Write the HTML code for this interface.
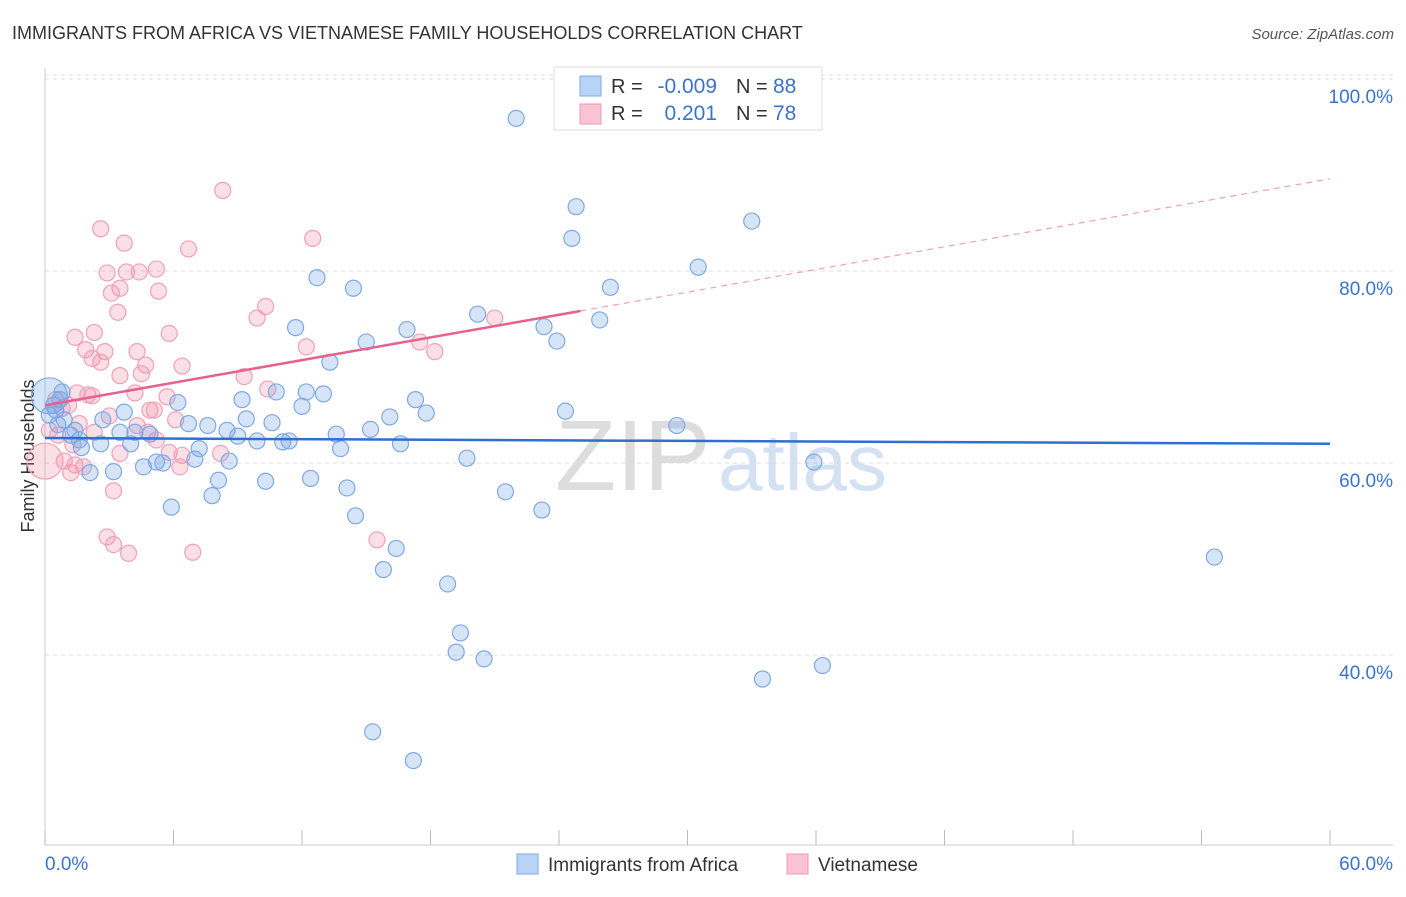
<!DOCTYPE html>
<html><head><meta charset="utf-8"><style>
body{margin:0;background:#fff;font-family:"Liberation Sans",sans-serif;}
svg text{font-family:"Liberation Sans",sans-serif;}
</style></head><body>
<svg id="chart" width="1406" height="892">
<text x="12" y="39" font-size="18" fill="#333">IMMIGRANTS FROM AFRICA VS VIETNAMESE FAMILY HOUSEHOLDS CORRELATION CHART</text>
<text x="1394" y="39" font-size="15" fill="#555" font-style="italic" text-anchor="end">Source: ZipAtlas.com</text>
<text transform="translate(34,456) rotate(-90)" font-size="18" fill="#333" text-anchor="middle">Family Households</text>
<g>
<text x="555" y="490" font-size="100" fill="#ddd" font-family="Liberation Serif">ZIP</text>
<text x="718" y="490" font-size="80" fill="#d3e1f3">atlas</text>
</g>
<g id="grid"></g><g id="axes"></g><g id="pts"></g><g id="trends"></g>
<g>
<rect x="554" y="67" width="268" height="63" fill="#fff" stroke="#ddd"/>
<rect x="580" y="76" width="21" height="20" fill="#b8d3f5" stroke="#7ea9e6"/>
<rect x="580" y="104" width="21" height="20" fill="#f9c3d3" stroke="#ef9ab5"/>
<text x="611" y="93" font-size="20" fill="#333">R =</text>
<text x="717" y="93" font-size="21" fill="#3a74d0" text-anchor="end">-0.009</text>
<text x="736" y="93" font-size="20" fill="#333">N =</text>
<text x="773" y="93" font-size="21" fill="#3a74d0">88</text>
<text x="611" y="120" font-size="20" fill="#333">R =</text>
<text x="717" y="120" font-size="21" fill="#3a74d0" text-anchor="end">0.201</text>
<text x="736" y="120" font-size="20" fill="#333">N =</text>
<text x="773" y="120" font-size="21" fill="#3a74d0">78</text>
</g>
<g>
<rect x="517" y="854" width="21" height="20" fill="#b8d3f5" stroke="#7ea9e6"/>
<text x="548" y="871" font-size="19" fill="#333">Immigrants from Africa</text>
<rect x="787" y="854" width="21" height="20" fill="#f9c3d3" stroke="#ef9ab5"/>
<text x="818" y="871" font-size="19" fill="#333">Vietnamese</text>
</g>
</svg>
<script>
const NS="http://www.w3.org/2000/svg";
const yTicks=[40,60,80,100];
const yTickLabels=["40.0%","60.0%","80.0%","100.0%"];
const xTicks=[0,6,12,18,24,30,36,42,48,54,60];
const xTickLabels=["0.0%","60.0%"];
const africaX=[22.0,24.8,33.0,24.6,30.5,12.7,14.4,26.4,20.2,25.9,11.7,23.3,16.9,15.0,23.9,13.3,10.8,12.2,13.0,9.2,6.2,17.3,12.0,3.7,24.3,17.8,16.1,9.4,10.6,2.7,6.7,7.6,8.5,9.0,13.6,15.2,29.5,3.5,4.2,4.9,9.9,11.4,11.1,4.0,2.6,1.7,7.2,13.8,16.6,7.0,5.2,8.6,4.6,5.5,19.7,35.9,3.2,2.1,8.1,10.3,12.4,14.1,21.5,7.8,5.9,23.2,14.5,16.4,15.8,54.6,18.8,19.4,19.2,20.5,36.3,33.5,15.3,17.2,0.7,0.5,0.9,1.2,0.2,1.6,0.6,0.8,1.4,0.4];
const africaY=[95.9,86.7,85.2,83.4,80.4,79.3,78.2,78.3,75.5,74.9,74.1,74.2,73.9,72.6,72.7,70.5,67.4,67.4,67.2,66.6,66.3,66.6,65.9,65.3,65.4,65.2,64.8,64.6,64.2,64.5,64.1,63.9,63.4,62.8,63.0,63.5,63.9,63.2,63.2,63.0,62.3,62.3,62.2,62.0,62.0,61.6,61.5,61.5,62.0,60.4,60.1,60.2,59.6,60.0,60.5,60.1,59.1,59.0,58.2,58.1,58.4,57.4,57.0,56.6,55.4,55.1,54.5,51.1,48.9,50.2,47.4,42.3,40.3,39.6,38.9,37.5,32.0,29.0,66.6,65.5,64.5,62.9,65.0,62.4,64.0,67.4,63.4,66.0];
const vietX=[8.3,2.6,12.5,3.7,6.7,2.9,3.8,4.4,5.2,3.5,3.1,5.3,3.4,10.3,9.9,21.0,2.3,1.4,5.8,1.9,2.8,12.2,17.5,18.2,4.3,2.2,2.6,4.7,6.4,4.5,3.5,9.3,10.4,1.5,2.0,2.2,4.2,5.7,4.9,5.1,0.5,0.8,1.1,3.0,6.1,4.3,4.8,1.6,2.3,5.2,5.8,6.4,3.5,8.2,0.9,6.3,1.2,1.4,1.8,3.2,2.9,3.2,3.9,6.9,15.5,0.2,0.6,1.3];
const vietY=[88.4,84.4,83.4,82.9,82.3,79.8,79.9,79.9,80.2,78.2,77.7,77.9,75.7,76.3,75.1,75.1,73.6,73.1,73.5,71.8,71.6,72.1,72.6,71.6,71.6,70.9,70.5,70.2,70.1,69.3,69.1,69.0,67.7,67.3,67.1,67.0,67.3,66.9,65.5,65.5,66.6,65.7,66.0,64.9,64.5,63.9,63.2,64.1,63.2,62.4,61.1,60.8,61.0,61.0,60.2,59.6,59.0,59.8,59.6,57.1,52.3,51.5,50.6,50.7,52.0,63.4,62.9,61.9];
const bigX=[0.2,0.0];const bigY=[67.0,60.2];
const africaTrend=[62.6,62.0];
const vietTrend=[66.0,89.6];const vietSolidEnd=25;
const X=v=>45+v/60*1285, Y=v=>1039-v*9.6;
function mk(tag,attrs,parent){const e=document.createElementNS(NS,tag);for(const k in attrs)e.setAttribute(k,attrs[k]);parent.appendChild(e);return e;}
const grid=document.getElementById('grid'),axes=document.getElementById('axes'),pts=document.getElementById('pts'),tr=document.getElementById('trends');
yTicks.forEach((t,i)=>{
 const l=mk('line',{x1:45,x2:1393,y1:Y(t),y2:Y(t),stroke:'#ddd','stroke-dasharray':'4,4'},grid);
 
 
 const tx=mk('text',{x:1393,y:Y(t)+24,'font-size':19,fill:'#3a74d0','text-anchor':'end'},grid);
 tx.textContent=yTickLabels[i];
 
 
});
const topLine=mk('line',{x1:45,x2:1393,y1:Y(100)-4,y2:Y(100)-4,stroke:'#e6e6e6','stroke-dasharray':'4,4'},grid);


const la=mk('line',{x1:45,x2:45,y1:68,y2:845,stroke:'#ccc'},axes);


const ba=mk('line',{x1:45,x2:1393,y1:845,y2:845,stroke:'#ccc'},axes);


xTicks.forEach(t=>{
 const l=mk('line',{x1:X(t),x2:X(t),y1:830,y2:845,stroke:'#bbb'},axes);
 
 
});
const xl0=mk('text',{x:45,y:870,'font-size':19,fill:'#3a74d0'},axes);xl0.textContent=xTickLabels[0];


const xl1=mk('text',{x:1393,y:870,'font-size':19,fill:'#3a74d0','text-anchor':'end'},axes);xl1.textContent=xTickLabels[1];


function dot(x,y,r,blue){
 const c=mk('circle',{cx:X(x),cy:Y(y),r:r,fill:blue?'rgba(120,165,230,0.3)':'rgba(240,140,170,0.28)',stroke:blue?'#7ea9e6':'#f0a0b8','stroke-width':1.2},pts);
 
 
}
vietX.forEach((x,i)=>dot(x,vietY[i],8,false));
africaX.forEach((x,i)=>dot(x,africaY[i],8,true));
dot(bigX[0],bigY[0],18,true);dot(bigX[1],bigY[1],18,false);
const at=mk('line',{x1:X(0),y1:Y(africaTrend[0]),x2:X(60),y2:Y(africaTrend[1]),stroke:'#2f6fd1','stroke-width':2.5},tr);


const vm=vietTrend[0]+(vietTrend[1]-vietTrend[0])*vietSolidEnd/60;
const vs=mk('line',{x1:X(0),y1:Y(vietTrend[0]),x2:X(vietSolidEnd),y2:Y(vm),stroke:'#e8608c','stroke-width':2.5},tr);


const vd=mk('line',{x1:X(vietSolidEnd),y1:Y(vm),x2:X(60),y2:Y(vietTrend[1]),stroke:'#f0a0b8','stroke-width':1.2,'stroke-dasharray':'6,5'},tr);


</script>
</body></html>
